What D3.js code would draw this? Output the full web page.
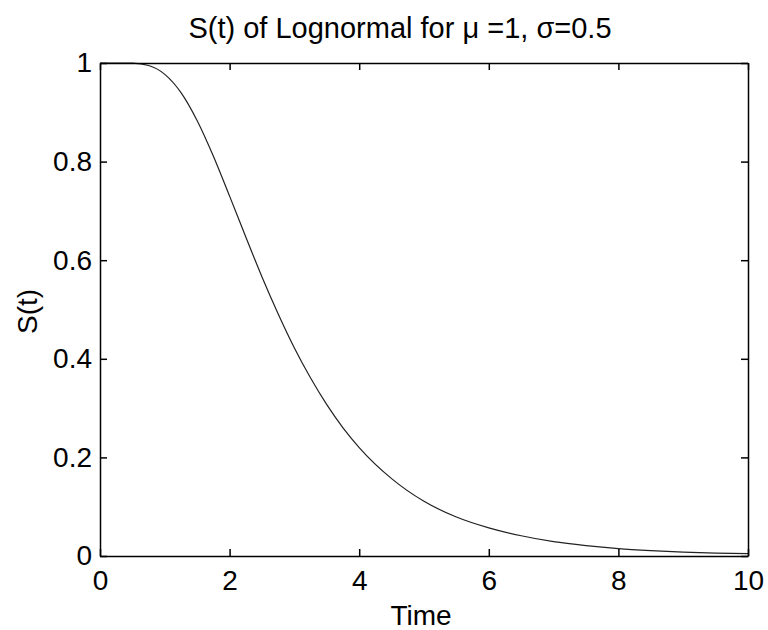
<!DOCTYPE html>
<meta charset="utf-8">
<style>
  body { margin: 0; background: #fff; }
  text { font-family: "Liberation Sans", Arial, sans-serif; fill: #000; }
</style>
<body>
<div id="chart"></div>
<script src="https://d3js.org/d3.v7.min.js"></script>
<script>

// values
const times = [0, 0.25, 0.5, 0.75, 1, 1.25, 1.5, 1.75, 2, 2.25, 2.5, 2.75, 3, 3.25, 3.5, 3.75, 4, 4.5, 5, 5.5, 6, 6.5, 7, 7.5, 8, 8.5, 9, 9.5, 10];
const survival = [1, 1, 0.9996, 0.995, 0.977, 0.940, 0.883, 0.811, 0.730, 0.647, 0.566, 0.491, 0.422, 0.361, 0.307, 0.260, 0.220, 0.157, 0.111, 0.079, 0.057, 0.041, 0.029, 0.021, 0.015, 0.011, 0.008, 0.006, 0.005];
const xTicks = [0, 2, 4, 6, 8, 10];
const yTicks = [0, 0.2, 0.4, 0.6, 0.8, 1];

let width = 768, height = 630;
let margin = {left: 100, right: 20, top: 63, bottom: 74};
let fontSize = "28px";

let svg = d3.select("#chart").append("svg")
            .attr("width", width)
            .attr("height", height);

let x = d3.scaleLinear().domain([0, 10]).range([margin.left, width - margin.right]);
let y = d3.scaleLinear().domain([0, 1]).range([height - margin.bottom, margin.top]);

// curve
let line = d3.line()
             .x((d, i) => x(times[i]))
             .y(d => y(d))
             .curve(d3.curveMonotoneX);

svg.append("path")
   .datum(survival)
   .attr("d", line)
   .attr("fill", "none")
   .attr("stroke", "#222")
   .attr("stroke-width", 1.2);

// box with inward ticks on every side
let tick = 7;
svg.append("g")
   .attr("transform", `translate(0,${y(0)})`)
   .call(d3.axisBottom(x).tickValues(xTicks).tickSizeInner(-tick).tickSizeOuter(0).tickPadding(14));
svg.append("g")
   .attr("transform", `translate(0,${y(1)})`)
   .call(d3.axisTop(x).tickValues(xTicks).tickSizeInner(-tick).tickSizeOuter(0).tickFormat(""));
svg.append("g")
   .attr("transform", `translate(${x(0)},0)`)
   .call(d3.axisLeft(y).tickValues(yTicks).tickSizeInner(-tick).tickSizeOuter(0).tickPadding(8).tickFormat(d3.format("")));
svg.append("g")
   .attr("transform", `translate(${x(10)},0)`)
   .call(d3.axisRight(y).tickValues(yTicks).tickSizeInner(-tick).tickSizeOuter(0).tickFormat(""));

svg.selectAll(".domain").attr("stroke", "#000").attr("stroke-width", 1.5);
svg.selectAll(".tick line").attr("stroke", "#000").attr("stroke-width", 1.5);
svg.selectAll(".tick text")
   .style("font-family", "'Liberation Sans', Arial, sans-serif")
   .style("font-size", fontSize)
   .attr("fill", "#000");

// labels
svg.append("text")
   .attr("x", 400)
   .attr("y", 38)
   .attr("text-anchor", "middle")
   .style("font-size", "29px")
   .text("S(t) of Lognormal for \u03bc =1, \u03c3=0.5");

svg.append("text")
   .attr("x", 421)
   .attr("y", 625)
   .attr("text-anchor", "middle")
   .style("font-size", fontSize)
   .text("Time");

svg.append("text")
   .attr("transform", `translate(37,${(y(0) + y(1)) / 2 + 2}) rotate(-90)`)
   .attr("text-anchor", "middle")
   .style("font-size", fontSize)
   .text("S(t)");

</script>
</body>
